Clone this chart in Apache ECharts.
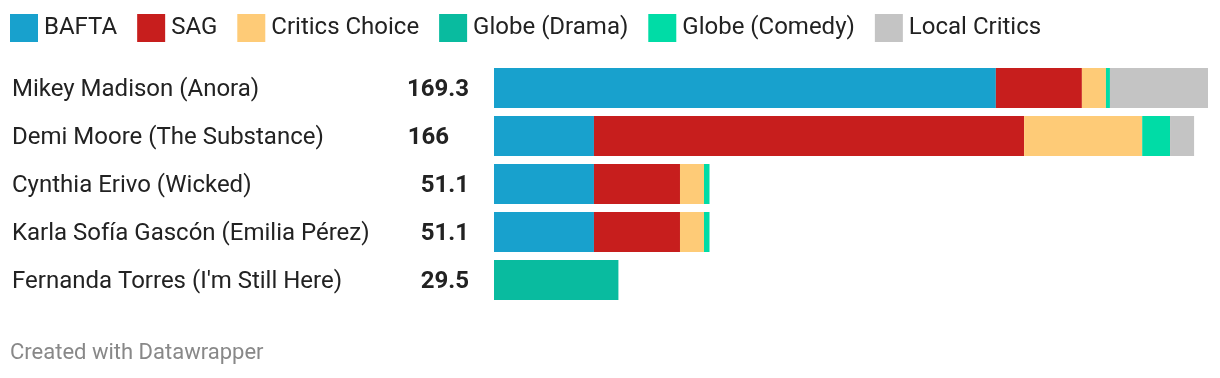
<!DOCTYPE html>
<html><head><meta charset="utf-8">
<script src="https://cdn.jsdelivr.net/npm/echarts@6/dist/echarts.min.js"></script>
<style>html,body{margin:0;padding:0;background:#fff}#c{width:1220px;height:378px}</style>
</head><body><div id="c"></div>
<script>
const categories = ["Mikey Madison (Anora)","Demi Moore (The Substance)","Cynthia Erivo (Wicked)","Karla Sofía Gascón (Emilia Pérez)","Fernanda Torres (I'm Still Here)"];
const totals = [169.3, 166, 51.1, 51.1, 29.5];
const seriesNames = ["BAFTA","SAG","Critics Choice","Globe (Drama)","Globe (Comedy)","Local Critics"];
const bafta = [119, 23.7, 23.7, 23.7, 0];
const sag = [20.4, 102, 20.4, 20.4, 0];
const criticsChoice = [5.7, 28, 5.7, 5.7, 0];
const globeDrama = [0, 0, 0, 0, 29.5];
const globeComedy = [0.95, 6.6, 1.3, 1.3, 0];
const localCritics = [23.25, 5.7, 0, 0, 0];
const colors = ["#18a1cd","#c71e1d","#fecb77","#09bb9f","#00dca6","#c4c4c4"];

const seriesData = [bafta, sag, criticsChoice, globeDrama, globeComedy, localCritics];
const FONT = "Roboto";
const chart = echarts.init(document.getElementById('c'));
chart.setOption({
  animation: false,
  color: colors,
  textStyle: {fontFamily: FONT},
  legend: {
    left: 10, top: 14, padding: 0, itemWidth: 28, itemHeight: 28, itemGap: 20,
    icon: 'rect',
    textStyle: {fontFamily: FONT, fontSize: 24, color: '#222', padding: [0,0,0,1]},
    data: seriesNames
  },
  graphic: [{type: 'text', left: 10, top: 342, style: {text: 'Created with Datawrapper', fontFamily: FONT, fontSize: 22, fill: '#888'}}],
  grid: {left: 494, right: 12, top: 64, height: 240},
  xAxis: {type: 'value', min: 0, max: 169.3, show: false},
  yAxis: [
    {type: 'category', data: categories, inverse: true, position: 'left',
     axisLine: {show: false}, axisTick: {show: false},
     axisLabel: {align: 'left', margin: 482,
       formatter: function(v){ return '{n|' + v + '}'; },
       rich: {n: {fontFamily: FONT, fontSize: 24, color: '#222', padding: [3,0,0,0]}}}},
    {type: 'category', data: totals, inverse: true, position: 'left', offset: 0,
     axisLine: {show: false}, axisTick: {show: false},
     axisLabel: {align: 'right', margin: 25, padding: [3,0,0,0],
       formatter: function(v){ const s = String(v); return s.indexOf('.') < 0 ? '{b|' + s + '}{p|}' : '{b|' + s + '}'; },
       rich: {b: {fontFamily: FONT, fontSize: 24, fontWeight: 'bold', color: '#222'}, p: {width: 20}}}}
  ],
  series: seriesNames.map((n, i) => ({
    name: n, type: 'bar', stack: 'total', yAxisIndex: 0,
    barCategoryGap: '16.67%',
    data: seriesData[i],
    itemStyle: {color: colors[i]}
  }))
});
</script></body></html>
